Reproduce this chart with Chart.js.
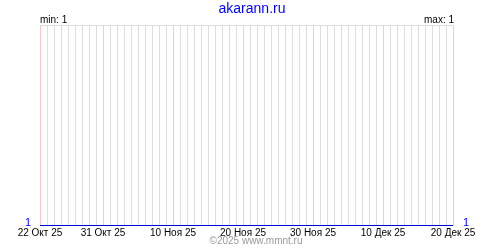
<!DOCTYPE html>
<html><head><meta charset="utf-8">
<script src="https://cdn.jsdelivr.net/npm/chart.js@4"></script>
<style>html,body{margin:0;padding:0;background:#fff}#wrap{width:500px;height:250px}</style>
</head><body><div id="wrap"><canvas id="c" width="500" height="250"></canvas></div>
<script>
const title = "akarann.ru";
const footer = "©2025 www.mmnt.ru";
const minLabel = "min: 1";
const maxLabel = "max: 1";
const edgeLabel = "1";
const tickDays = [0, 9, 19, 29, 39, 49, 59];
const tickLabels = ["22 Окт 25", "31 Окт 25", "10 Ноя 25", "20 Ноя 25", "30 Ноя 25", "10 Дек 25", "20 Дек 25"];
const values = [1,1,1,1,1,1,1,1,1,1,1,1,1,1,1,1,1,1,1,1,1,1,1,1,1,1,1,1,1,1,
                1,1,1,1,1,1,1,1,1,1,1,1,1,1,1,1,1,1,1,1,1,1,1,1,1,1,1,1,1,1];

const FONT = "'Liberation Sans', Arial, sans-serif";
Chart.defaults.font.family = FONT;
const points = values.map((v, i) => ({x: i, y: v}));

const bgPlugin = {
  id: 'bg',
  beforeDraw(chart) {
    const ctx = chart.ctx;
    ctx.save();
    ctx.fillStyle = '#ffffff';
    ctx.fillRect(0, 0, chart.width, chart.height);
    ctx.restore();
  }
};

const textPlugin = {
  id: 'texts',
  afterDraw(chart) {
    const ctx = chart.ctx, a = chart.chartArea;
    const y = chart.scales.y;
    ctx.save();
    ctx.textBaseline = 'alphabetic';
    ctx.font = "14px " + FONT;
    ctx.fillStyle = '#0000ff';
    ctx.textAlign = 'center';
    ctx.fillText(title, 252, 13);
    ctx.font = "10px " + FONT;
    ctx.fillStyle = '#000';
    ctx.textAlign = 'left';
    ctx.fillText(minLabel, a.left, 23);
    ctx.textAlign = 'right';
    ctx.fillText(maxLabel, a.right + 1, 23);
    ctx.fillStyle = '#999';
    ctx.textAlign = 'center';
    ctx.fillText(footer, 256, 244);
    ctx.font = "11px " + FONT;
    ctx.fillStyle = '#0000ff';
    const py = Math.round(y.getPixelForValue(values[0]));
    ctx.textAlign = 'right';
    ctx.fillText(edgeLabel, a.left - 9, py);
    ctx.textAlign = 'left';
    ctx.fillText(edgeLabel, a.right + 10, py);
    ctx.restore();
  }
};

new Chart(document.getElementById('c'), {
  type: 'line',
  data: { datasets: [{ data: points, borderColor: '#0000dd', borderWidth: 1, pointRadius: 0, tension: 0, clip: false }] },
  options: {
    responsive: false, animation: false,
    layout: { padding: { top: 25, left: 0, right: 47, bottom: 0 } },
    plugins: { legend: { display: false }, tooltip: { enabled: false } },
    scales: {
      x: {
        type: 'linear', min: 0, max: 59,
        afterBuildTicks(scale) { scale.ticks = values.map((v, i) => ({value: i})); },
        afterFit(scale) { scale.height = 24.5; },
        border: { display: false },
        grid: { drawTicks: false, color: (c) => (c.tick && tickDays.includes(c.tick.value)) ? '#ffc8c8' : '#dddddd' },
        ticks: { autoSkip: false, maxRotation: 0, padding: 2, color: '#000', font: { size: 10 },
          callback: (v) => { const k = tickDays.indexOf(v); return k >= 0 ? tickLabels[k] : ''; } }
      },
      y: {
        position: 'left', min: 1, max: 2,
        afterBuildTicks(scale) { scale.ticks = [{value: 2}]; },
        afterFit(scale) { scale.width = 40; },
        border: { display: false },
        grid: { drawTicks: false, color: '#dddddd' },
        ticks: { display: false }
      }
    }
  },
  plugins: [bgPlugin, textPlugin]
});
</script></body></html>
